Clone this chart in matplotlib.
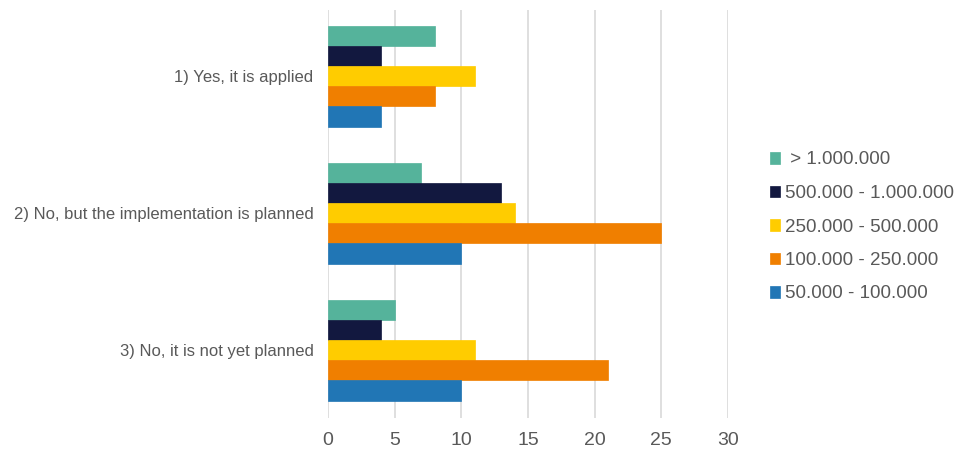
import matplotlib
matplotlib.use("Agg")
import matplotlib.pyplot as plt
import numpy as np

plt.rcParams['font.family'] = ['Liberation Sans', 'DejaVu Sans']

categories = ["1) Yes, it is applied",
              "2) No, but the implementation is planned",
              "3) No, it is not yet planned"]
series_names = [" > 1.000.000", "500.000 - 1.000.000", "250.000 - 500.000",
                "100.000 - 250.000", "50.000 - 100.000"]
values = {
    " > 1.000.000": [8, 7, 5],
    "500.000 - 1.000.000": [4, 13, 4],
    "250.000 - 500.000": [11, 14, 11],
    "100.000 - 250.000": [8, 25, 21],
    "50.000 - 100.000": [4, 10, 10],
}
colors = ["#55B39B", "#12183F", "#FFCC00", "#F07F00", "#2176B5"]
xticks = [0, 5, 10, 15, 20, 25, 30]

text_color = "#595959"
fig = plt.figure(figsize=(9.57, 4.55), dpi=100)
ax = fig.add_axes([328/957, 1-418/455, 400/957, 408/455])

y = np.arange(len(categories))
h = 0.1475
n = len(series_names)
for i, (name, c) in enumerate(zip(series_names, colors)):
    offs = (i - (n-1)/2) * h
    ax.barh(y + offs, values[name], height=h, color=c, label=name, zorder=3,
            edgecolor=c, linewidth=0.5)

ax.set_xlim(0, 30)
ax.set_ylim(2.496, -0.482)
ax.set_xticks(xticks)
ax.set_xticklabels([str(t) for t in xticks], fontsize=14, color=text_color)
ax.set_yticks(y)
ax.set_yticklabels(categories, fontsize=12, color=text_color)
ax.tick_params(axis='both', length=0)
ax.tick_params(axis='x', pad=10)
ax.tick_params(axis='y', pad=10.5)
ax.grid(axis='x', color='#D9D9D9', linewidth=1.2, zorder=0)
for s in ax.spines.values():
    s.set_visible(False)

leg = fig.legend(loc='upper left', bbox_to_anchor=(762/957, 1-144/455),
                 frameon=False, fontsize=13.5, labelcolor=text_color,
                 handlelength=0.55, handleheight=0.55, handletextpad=0.3,
                 labelspacing=0.88, borderaxespad=0)

fig.savefig("out.png", dpi=100)
